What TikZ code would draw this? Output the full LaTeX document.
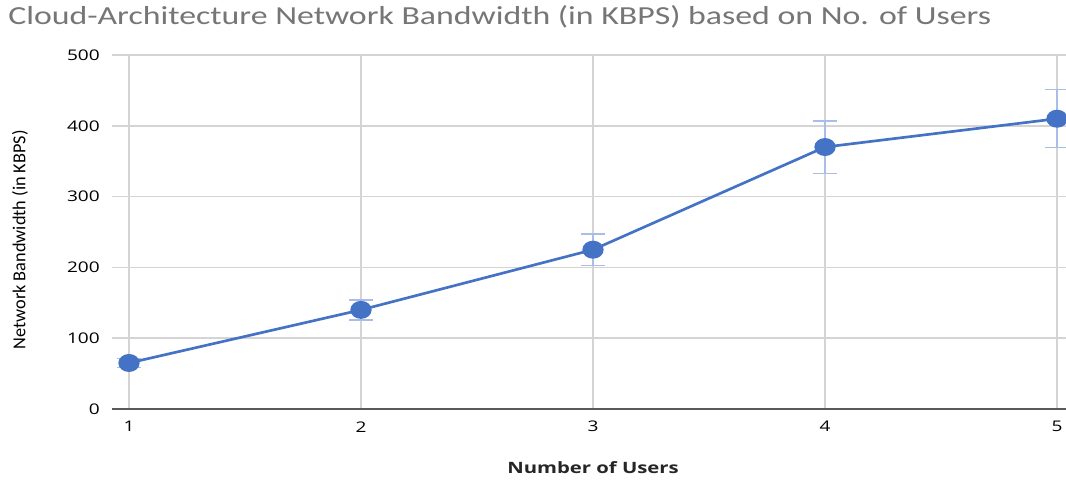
\documentclass[tikz,border=0pt]{standalone}
\usepackage{fontspec}
\setmainfont{Open Sans}
\newfontfamily\tickfont[FakeStretch=1.3]{Open Sans}
\newfontfamily\titlefont[FakeStretch=1.3]{Carlito}
\newfontfamily\labelfont{Carlito}
\usetikzlibrary{positioning,shapes.geometric}
\definecolor{seriesblue}{HTML}{4472C4}
\definecolor{errblue}{HTML}{A9BDE8}
\definecolor{gridgray}{HTML}{D4D4D4}
\definecolor{axisgray}{HTML}{595959}
\definecolor{titlegray}{HTML}{767676}
\tikzset{
  gridline/.style = {gridgray, line width = 1.3pt},
  errbar/.style = {errblue, line width = 1.1pt},
  datapt/.style = {ellipse, fill = seriesblue, inner sep = 0pt,
    minimum width = 16pt, minimum height = 13.5pt},
  ticklabel/.style = {font = \tickfont\fontsize{11}{13}\selectfont, text = black},
}
\begin{document}
\begin{tikzpicture}[x = 0.75pt, y = 0.75pt]
\useasboundingbox [fill = white] (0,0) rectangle (1066,479);
\node [anchor = base west, text = titlegray, inner sep = 0pt,
	font = \titlefont\fontsize{19.5}{22}\selectfont] (title) at (8,454)
{Cloud-Architecture Network Bandwidth (in KBPS) based on No. of Users};
\begin{scope}[xshift = -77.25pt, yshift = 52.5pt, x = 174pt, y = 0.531pt]
% grid
\foreach \v in {100,200,...,500}
	\draw [gridline] (0.927,\v) -- (5.04,\v);
\foreach \n in {1,...,5}
	\draw [gridline] (\n,0) -- (\n,500);
\draw [axisgray, line width = 1.3pt] (0.927,0) -- (5.04,0);
% tick labels
\foreach \v in {0,100,...,500}
	\node [ticklabel, anchor = east, inner sep = 0pt] (y\v) at (0.875,\v) {\v};
\foreach \n in {1,...,5}
	\node [ticklabel, inner sep = 0pt] (x\n) at (\n,-25) {\n};
\node [font = \tickfont\bfseries\fontsize{11.7}{13}\selectfont, text = black!85]
	(xtitle) at (3,-83) {Number of Users};
\node [rotate = 90, font = \labelfont\fontsize{13.7}{15}\selectfont]
	(ytitle) at (0.53,239) {Network Bandwidth (in KBPS)};
% error bars and series
\foreach \n/\v in {1/65,2/140,3/225,4/370,5/410} {
	\draw [errbar] (\n,0.9*\v) -- (\n,1.1*\v)
		(\n-0.052,0.9*\v) -- (\n+0.052,0.9*\v)
		(\n-0.052,1.1*\v) -- (\n+0.052,1.1*\v);
	\coordinate (c\n) at (\n,\v);
}
\draw [seriesblue, line width = 2pt, line join = round]
	(c1) -- (c2) -- (c3) -- (c4) -- (c5);
\foreach \n in {1,...,5}
	\node [datapt] (p\n) at (c\n) {};
\end{scope}
\end{tikzpicture}
\end{document}
